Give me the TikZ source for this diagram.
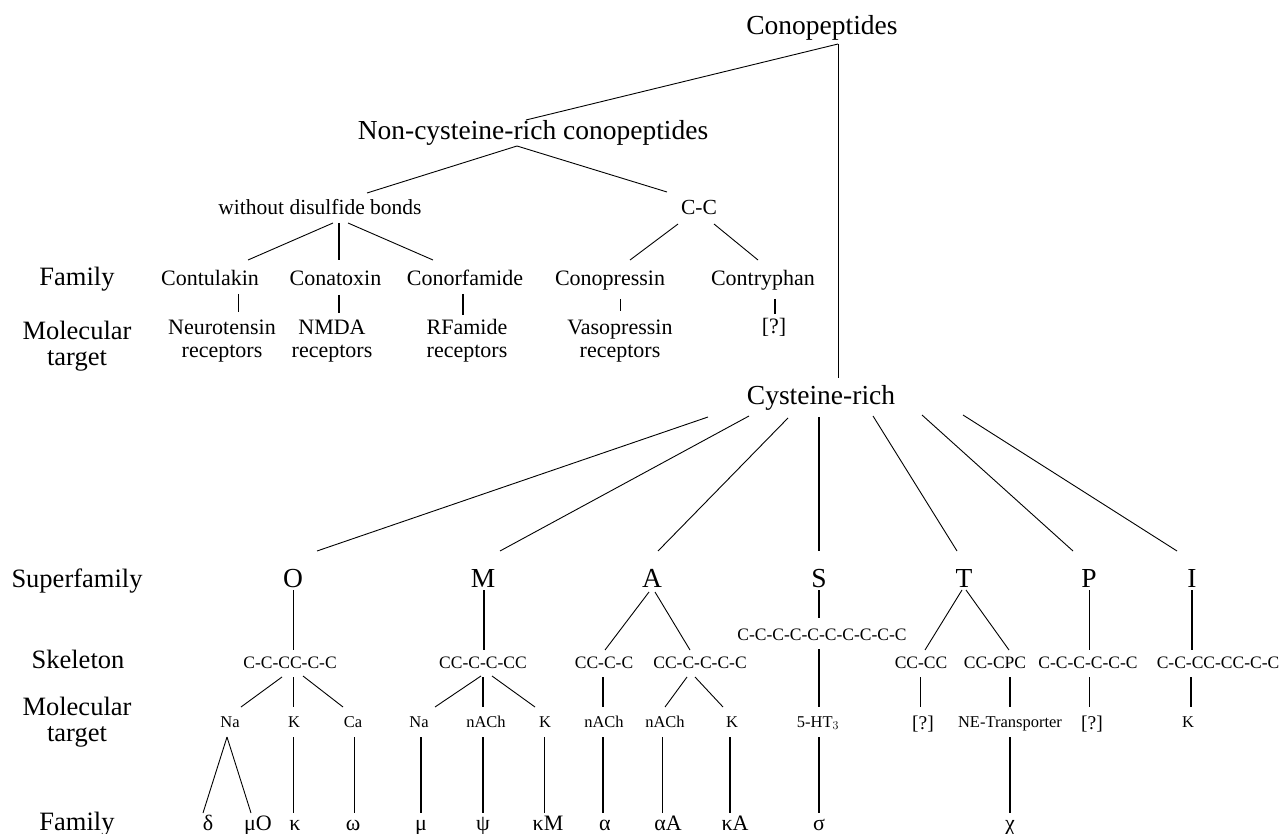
\documentclass[tikz,border=0pt]{standalone}
\usepackage{fontspec}
\setmainfont{Liberation Serif}
\usetikzlibrary{calc}
\begin{document}
\begin{tikzpicture}[x=1pt,y=-1pt,
  every node/.style={anchor=base,inner sep=0pt,outer sep=0pt},
  big/.style={font=\fontsize{27.5}{30}\selectfont},
  lab/.style={font=\fontsize{26.5}{26}\selectfont,align=center},
  mid/.style={font=\fontsize{21.5}{24}\selectfont},
  fam/.style={font=\fontsize{22}{23.5}\selectfont,align=center},
  sk/.style={font=\fontsize{17.5}{20}\selectfont},
  tg/.style={font=\fontsize{16.5}{19}\selectfont},
  qm/.style={font=\fontsize{19.5}{21}\selectfont},
  gk/.style={font=\fontsize{22}{24}\selectfont},
  ln/.style={line width=0.9pt},
  lnb/.style={line width=1.6pt}]
\useasboundingbox (0,0) rectangle (1282,834);

% ---- top part (multi-line nodes are placed by the baseline of their last line)
\node[big] (top) at (822,35) {Conopeptides};
\node[big] (ncr) at (533,140) {Non-cysteine-rich conopeptides};
\node[mid] (wdb) at (320,215) {without disulfide bonds};
\node[mid] (cc) at (699,215) {C-C};
\node[lab] (lf1) at (77,286) {Family};
\node[lab] (lm1) at (77,365) {Molecular\\target};
\node[fam] (f1) at (210,286) {Contulakin};
\node[fam] (f2) at (335.5,286) {Conatoxin};
\node[fam] (f3) at (465,286) {Conorfamide};
\node[fam] (f4) at (610,286) {Conopressin};
\node[fam] (f5) at (763,286) {Contryphan};
\node[fam] (t1) at (222,357.5) {Neurotensin\\receptors};
\node[fam] (t2) at (332,357.5) {NMDA\\receptors};
\node[fam] (t3) at (467,357.5) {RFamide\\receptors};
\node[fam] (t4) at (620,357.5) {Vasopressin\\receptors};
\node[fam] (t5) at (774,334) {[?]};
\node[big] (cys) at (821,404) {Cysteine-rich};

\draw[ln] ($(top.base)+(16,9)$) -- ($(ncr.base)+(-7,-20)$);
\draw[ln] ($(top.base)+(16,9)$) -- ($(cys.base)+(17,-26)$);
\draw[ln] ($(ncr.base)+(-16,6)$) -- ($(wdb.base)+(47,-22)$);
\draw[ln] ($(ncr.base)+(-16,6)$) -- ($(cc.base)+(-32,-23)$);
\draw[ln] ($(wdb.base)+(13,8)$) -- ($(f1.base)+(38,-26)$);
\draw[lnb] ($(wdb.base)+(19,8)$) -- ($(f2.base)+(3.5,-26)$);
\draw[ln] ($(wdb.base)+(28,8)$) -- ($(f3.base)+(-32,-26)$);
\draw[ln] ($(cc.base)+(-21,9)$) -- ($(f4.base)+(20,-26)$);
\draw[ln] ($(cc.base)+(15,9)$) -- ($(f5.base)+(-5,-26)$);
\draw[ln] ($(f1.base)+(28,8)$) -- ($(t1.base)+(16,-45.5)$);
\draw[lnb] ($(f2.base)+(3.5,9)$) -- ($(t2.base)+(7,-44.5)$);
\draw[lnb] ($(f3.base)+(-2,8)$) -- ($(t3.base)+(-4,-42.5)$);
\draw[ln] ($(f4.base)+(10,13)$) -- ($(t4.base)+(0,-46.5)$);
\draw[lnb] ($(f5.base)+(12,13)$) -- ($(t5.base)+(1,-20)$);

% ---- lower part
\node[lab] (lsf) at (77,587) {Superfamily};
\node[lab] (lsk) at (78,668) {Skeleton};
\node[lab] (lm2) at (77,741) {Molecular\\target};
\node[lab] (lf2) at (77,830) {Family};

\node[big] (O) at (293,587) {O};
\node[big] (M) at (483,587) {M};
\node[big] (A) at (652,587) {A};
\node[big] (S) at (819,587) {S};
\node[big] (T) at (964,587) {T};
\node[big] (P) at (1089,587) {P};
\node[big] (I) at (1192,587) {I};

\node[sk] (sO) at (290,668) {C-C-CC-C-C};
\node[sk] (sM) at (483,668) {CC-C-C-CC};
\node[sk] (sA1) at (604,668) {CC-C-C};
\node[sk] (sA2) at (700,668) {CC-C-C-C-C};
\node[sk] (sS) at (822,640) {C-C-C-C-C-C-C-C-C-C};
\node[sk] (sT1) at (921,668) {CC-CC};
\node[sk] (sT2) at (995,668) {CC-CPC};
\node[sk] (sP) at (1088,668) {C-C-C-C-C-C};
\node[sk] (sI) at (1218,668) {C-C-CC-CC-C-C};

\node[tg] (m1) at (230,727) {Na};
\node[tg] (m2) at (294,727) {K};
\node[tg] (m3) at (353,727) {Ca};
\node[tg] (m4) at (419,727) {Na};
\node[tg] (m5) at (486,727) {nACh};
\node[tg] (m6) at (545,727) {K};
\node[tg] (m7) at (604,727) {nACh};
\node[tg] (m8) at (665,727) {nACh};
\node[tg] (m9) at (732,727) {K};
\node[tg] (m10) at (818,727) {5-HT$_3$};
\node[qm] (m11) at (923,729) {[?]};
\node[tg] (m12) at (1010,727) {NE-Transporter};
\node[qm] (m13) at (1092,729) {[?]};
\node[tg] (m14) at (1188,727) {K};

\node[gk] (g1) at (208,830) {δ};
\node[gk] (g2) at (258,830) {μO};
\node[gk] (g3) at (295,830) {κ};
\node[gk] (g4) at (353,830) {ω};
\node[gk] (g5) at (421,830) {μ};
\node[gk] (g6) at (483,830) {ψ};
\node[gk] (g7) at (548,830) {κM};
\node[gk] (g8) at (605,830) {α};
\node[gk] (g9) at (668,830) {αA};
\node[gk] (g10) at (735,830) {κA};
\node[gk] (g11) at (819,830) {σ};
\node[gk] (g12) at (1010,830) {χ};

% fan from Cysteine-rich
\draw[ln] ($(cys.base)+(-113,13)$) -- ($(O.base)+(24,-36)$);
\draw[ln] ($(cys.base)+(-72,12)$) -- ($(M.base)+(17,-36)$);
\draw[ln] ($(cys.base)+(-33,14)$) -- ($(A.base)+(6,-36)$);
\draw[lnb] ($(cys.base)+(-2,13)$) -- ($(S.base)+(0,-36)$);
\draw[ln] ($(cys.base)+(52,12)$) -- ($(T.base)+(-7,-36)$);
\draw[ln] ($(cys.base)+(101,11)$) -- ($(P.base)+(-16,-36)$);
\draw[ln] ($(cys.base)+(142,11)$) -- ($(I.base)+(-15,-36)$);

% superfamily -> skeleton
\draw[ln] ($(O.base)+(0,3)$) -- ($(sO.base)+(3,-18)$);
\draw[lnb] ($(M.base)+(1,3)$) -- ($(sM.base)+(1,-18)$);
\draw[ln] ($(A.base)+(-3,5)$) -- ($(sA1.base)+(1,-18)$);
\draw[ln] ($(A.base)+(3,5)$) -- ($(sA2.base)+(-10,-18)$);
\draw[lnb] ($(S.base)+(0,3)$) -- ($(sS.base)+(-3,-22)$);
\draw[ln] ($(T.base)+(-2,3)$) -- ($(sT1.base)+(4,-18)$);
\draw[ln] ($(T.base)+(2,3)$) -- ($(sT2.base)+(14,-18)$);
\draw[ln] ($(P.base)+(0,3)$) -- ($(sP.base)+(1,-18)$);
\draw[lnb] ($(I.base)+(0,3)$) -- ($(sI.base)+(-26,-18)$);

% skeleton -> target
\draw[ln] ($(sO.base)+(-8,9)$) -- ($(m1.base)+(11,-20)$);
\draw[ln] ($(sO.base)+(3,9)$) -- ($(m2.base)+(-1,-20)$);
\draw[ln] ($(sO.base)+(13,8)$) -- ($(m3.base)+(-10,-20)$);
\draw[ln] ($(sM.base)+(-2,8)$) -- ($(m4.base)+(16,-20)$);
\draw[lnb] ($(sM.base)+(0,9)$) -- ($(m5.base)+(-3,-20)$);
\draw[ln] ($(sM.base)+(9,8)$) -- ($(m6.base)+(-10,-20)$);
\draw[lnb] ($(sA1.base)+(-1,9)$) -- ($(m7.base)+(-1,-20)$);
\draw[ln] ($(sA2.base)+(-13,9)$) -- ($(m8.base)+(0,-20)$);
\draw[ln] ($(sA2.base)+(-5,9)$) -- ($(m9.base)+(-9,-20)$);
\draw[lnb] ($(sS.base)+(-3,9)$) -- ($(m10.base)+(1,-20)$);
\draw[ln] ($(sT1.base)+(-1,9)$) -- ($(m11.base)+(-3,-22)$);
\draw[lnb] ($(sT2.base)+(15,9)$) -- ($(m12.base)+(0,-20)$);
\draw[ln] ($(sP.base)+(1,9)$) -- ($(m13.base)+(-3,-22)$);
\draw[lnb] ($(sI.base)+(-27,9)$) -- ($(m14.base)+(3,-20)$);

% target -> family
\draw[ln] ($(m1.base)+(-3,10)$) -- ($(g1.base)+(-5,-17)$);
\draw[ln] ($(m1.base)+(-3,10)$) -- ($(g2.base)+(-7,-17)$);
\draw[ln] ($(m2.base)+(-1,10)$) -- ($(g3.base)+(-2,-17)$);
\draw[ln] ($(m3.base)+(1,10)$) -- ($(g4.base)+(1,-17)$);
\draw[lnb] ($(m4.base)+(2,10)$) -- ($(g5.base)+(0,-17)$);
\draw[lnb] ($(m5.base)+(-3,10)$) -- ($(g6.base)+(0,-17)$);
\draw[ln] ($(m6.base)+(-1,10)$) -- ($(g7.base)+(-4,-17)$);
\draw[lnb] ($(m7.base)+(-1,10)$) -- ($(g8.base)+(-2,-17)$);
\draw[ln] ($(m8.base)+(-3,10)$) -- ($(g9.base)+(-6,-17)$);
\draw[lnb] ($(m9.base)+(-2,10)$) -- ($(g10.base)+(-5,-17)$);
\draw[lnb] ($(m10.base)+(1,10)$) -- ($(g11.base)+(0,-17)$);
\draw[lnb] ($(m12.base)+(0,10)$) -- ($(g12.base)+(0,-17)$);
\end{tikzpicture}
\end{document}
